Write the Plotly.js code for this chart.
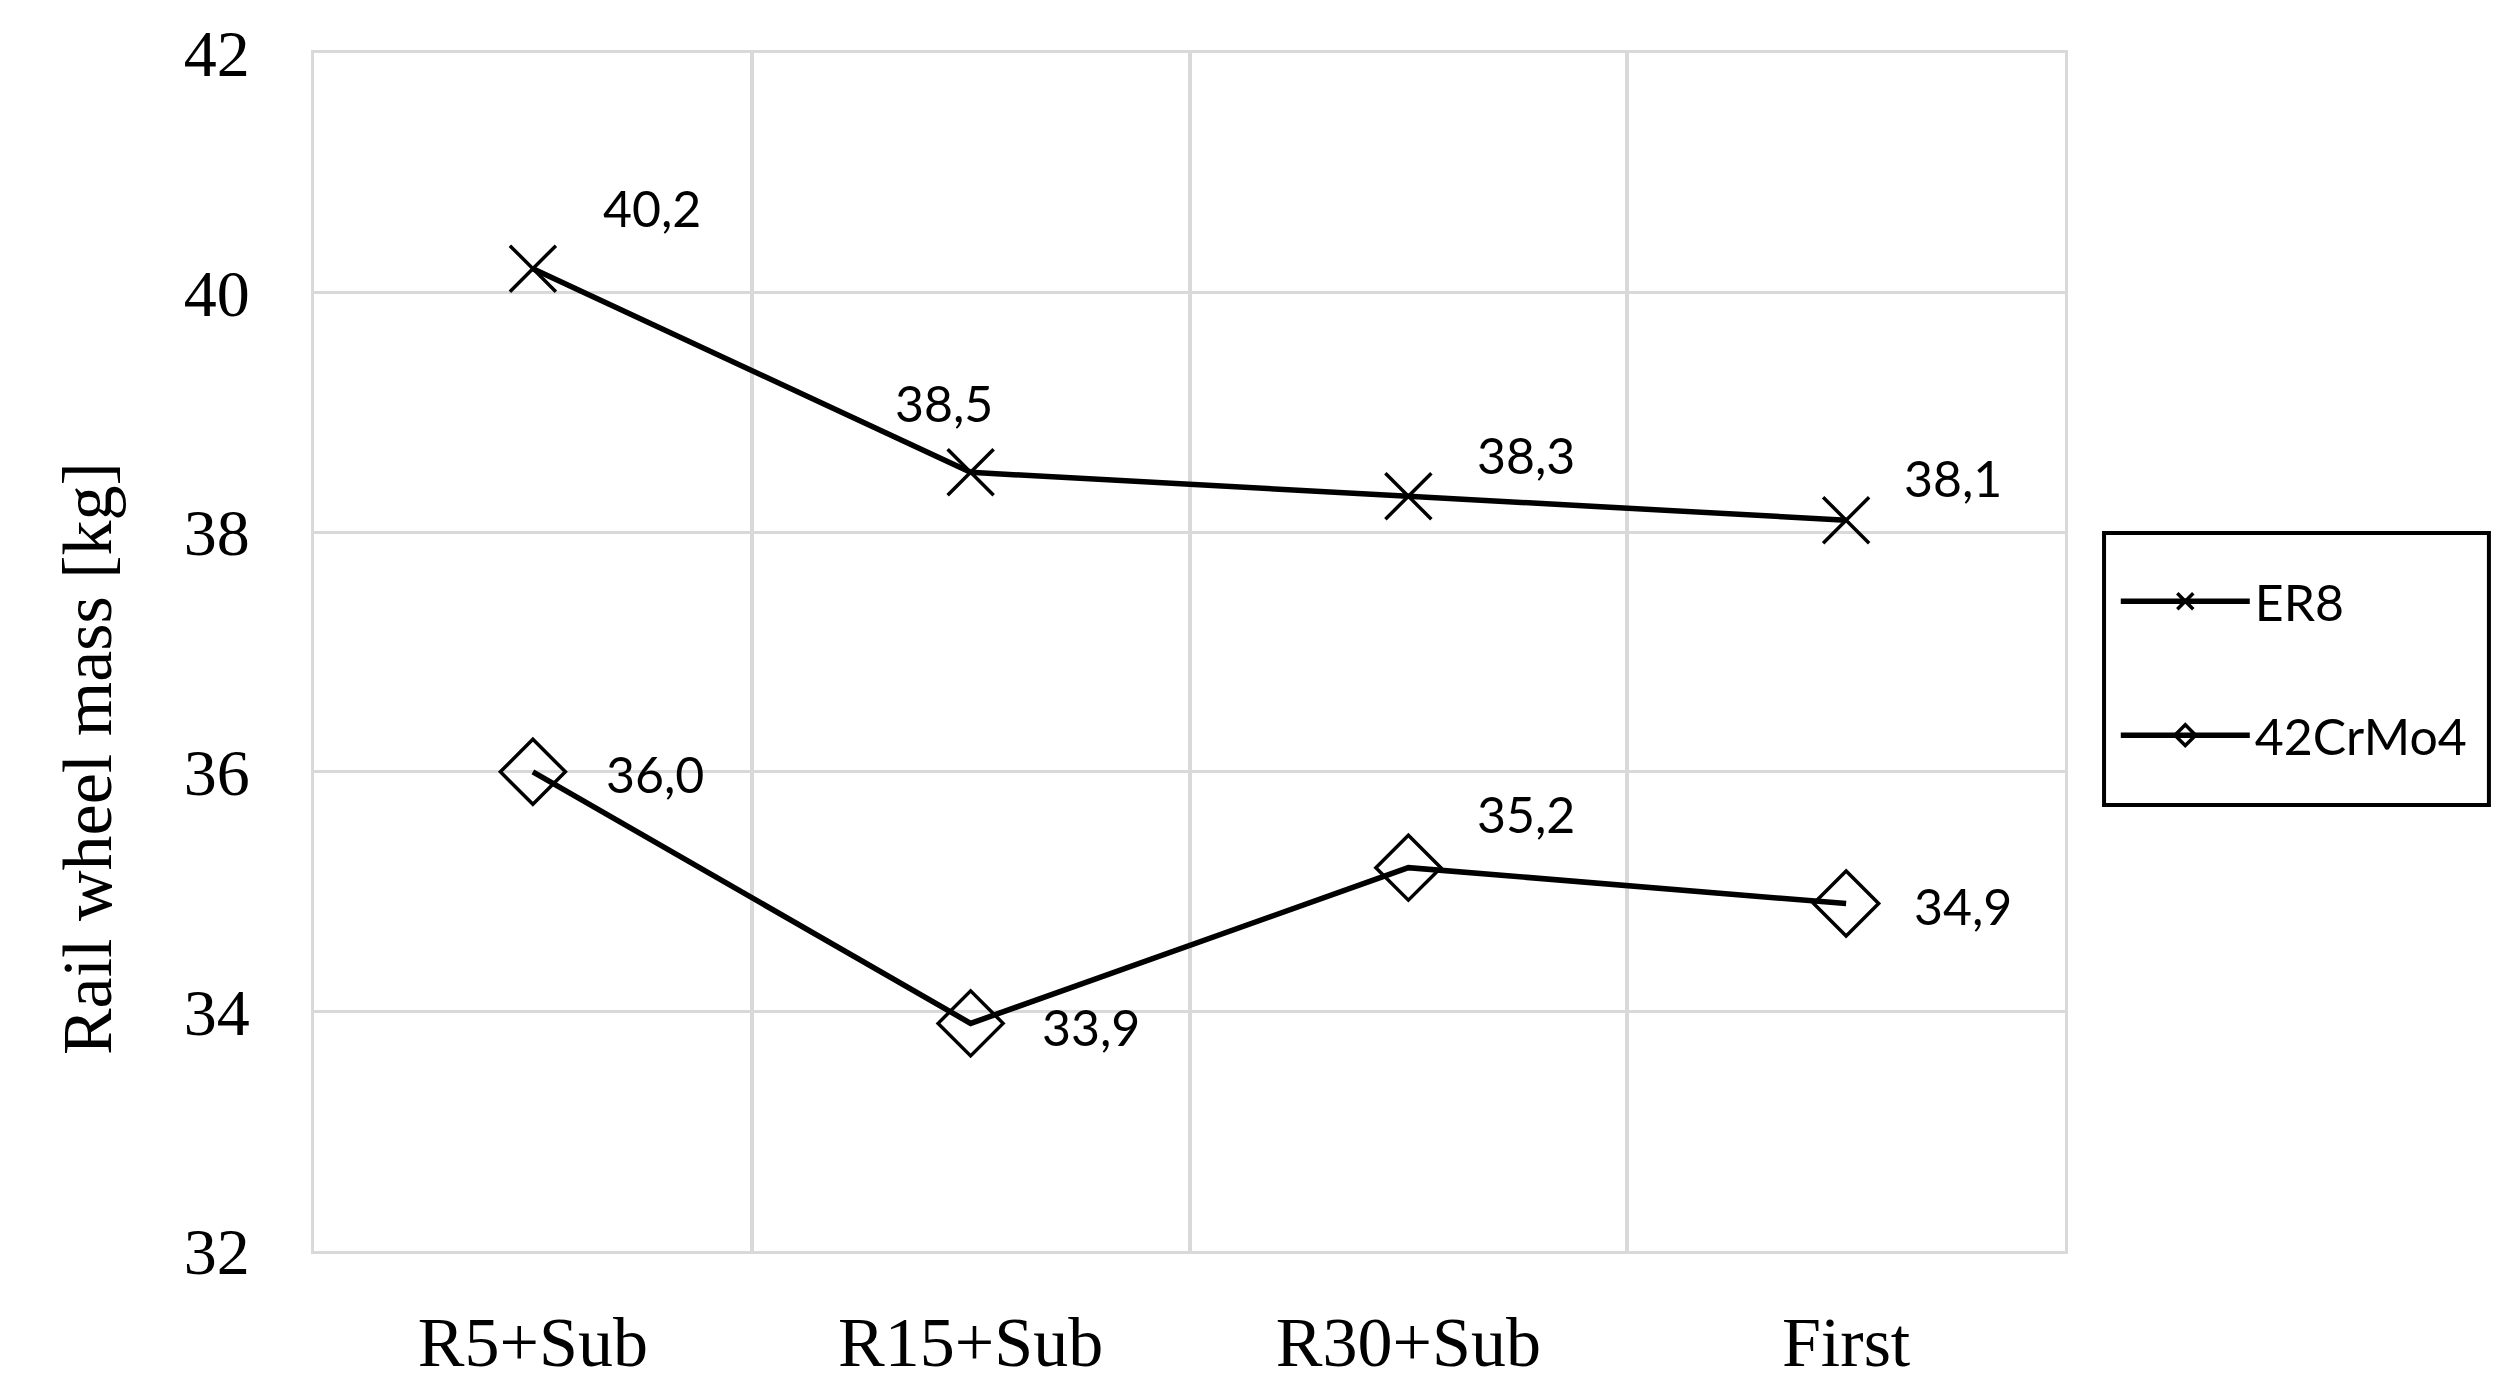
<!DOCTYPE html>
<html>
<head>
<meta charset="utf-8">
<script src="https://cdn.plot.ly/plotly-3.0.1.min.js"></script>
<style>html,body{margin:0;padding:0;background:#fff;}#chart{width:2510px;height:1386px;}</style>
</head>
<body>
<div id="chart"></div>
<script>
// ---- data ----
const categories = ['R5+Sub', 'R15+Sub', 'R30+Sub', 'First'];
const er8Values = [40.2, 38.5, 38.3, 38.1];
const crmoValues = [36.0, 33.9, 35.2, 34.9];
const seriesNames = ['ER8', '42CrMo4'];
const yTickValues = [32, 34, 36, 38, 40, 42];
const yTitle = 'Rail wheel mass [kg]';

// ---- label offsets (pixels: right, up) ----
const er8LabelShift = [[119, 61], [-27, 69], [118, 41], [107, 42]];
const crmoLabelShift = [[122, -2], [120, -4], [118, 54], [117, -2]];

const serif = 'Liberation Serif, Times New Roman, serif';
const sans = 'Lato, Carlito, sans-serif';
const grid = '#d9d9d9';

function fmt(v) { return v.toFixed(1).replace('.', ','); }

const traces = [
  {
    x: categories, y: er8Values, name: seriesNames[0], type: 'scatter', mode: 'lines+markers',
    legendgroup: 'a',
    line: {color: '#000', width: 5.5},
    marker: {symbol: 'x-thin', size: 46, color: '#000', line: {color: '#000', width: 3.5}}
  },
  {
    x: categories, y: crmoValues, name: seriesNames[1], type: 'scatter', mode: 'lines+markers',
    legendgroup: 'b',
    line: {color: '#000', width: 5.5},
    marker: {symbol: 'diamond-open', size: 50, color: '#000', line: {color: '#000', width: 3.5}}
  }
];

const annotations = [];
categories.forEach((c, i) => {
  annotations.push({x: c, y: er8Values[i], xref: 'x', yref: 'y', text: fmt(er8Values[i]), showarrow: false,
    xshift: er8LabelShift[i][0], yshift: er8LabelShift[i][1], font: {family: sans, size: 50, color: '#000'}});
  annotations.push({x: c, y: crmoValues[i], xref: 'x', yref: 'y', text: fmt(crmoValues[i]), showarrow: false,
    xshift: crmoLabelShift[i][0], yshift: crmoLabelShift[i][1], font: {family: sans, size: 50, color: '#000'}});
});
annotations.push({
  x: -0.129, y: 0.4107, xref: 'paper', yref: 'paper', xanchor: 'center', yanchor: 'middle',
  text: yTitle, textangle: -90, showarrow: false, font: {family: serif, size: 70, color: '#000'}
});

const layout = {
  width: 2510, height: 1386,
  margin: {l: 314, r: 445, t: 53, b: 135},
  paper_bgcolor: '#fff', plot_bgcolor: '#fff',
  showlegend: true,
  xaxis: {
    type: 'category', range: [-0.5, 3.5], tickson: 'boundaries',
    showgrid: true, gridcolor: grid, gridwidth: 4,
    showline: true, mirror: true, linecolor: grid, linewidth: 3,
    ticks: '', ticklabelstandoff: 28,
    tickfont: {family: serif, size: 70, color: '#000'},
    zeroline: false, fixedrange: true
  },
  yaxis: {
    range: [32, 42], tickvals: yTickValues,
    showgrid: true, gridcolor: grid, gridwidth: 3,
    showline: true, mirror: true, linecolor: grid, linewidth: 3,
    ticks: '', ticklabelstandoff: 48,
    tickfont: {family: serif, size: 66, color: '#000'},
    zeroline: false, fixedrange: true
  },
  legend: {
    x: 1.029, y: 0.575, xanchor: 'left', yanchor: 'top',
    bgcolor: 'rgba(0,0,0,0)', borderwidth: 0,
    traceorder: 'grouped', tracegroupgap: 66, itemwidth: 129,
    font: {family: sans, size: 50, color: '#000'}
  },
  shapes: [{
    type: 'rect', xref: 'paper', yref: 'paper',
    x0: 1.0223, x1: 1.2421, y0: 0.3723, y1: 0.5993,
    line: {color: '#000', width: 4}, fillcolor: 'rgba(0,0,0,0)'
  }],
  annotations: annotations
};

Plotly.newPlot('chart', traces, layout, {displayModeBar: false, staticPlot: true});
</script>
</body>
</html>
